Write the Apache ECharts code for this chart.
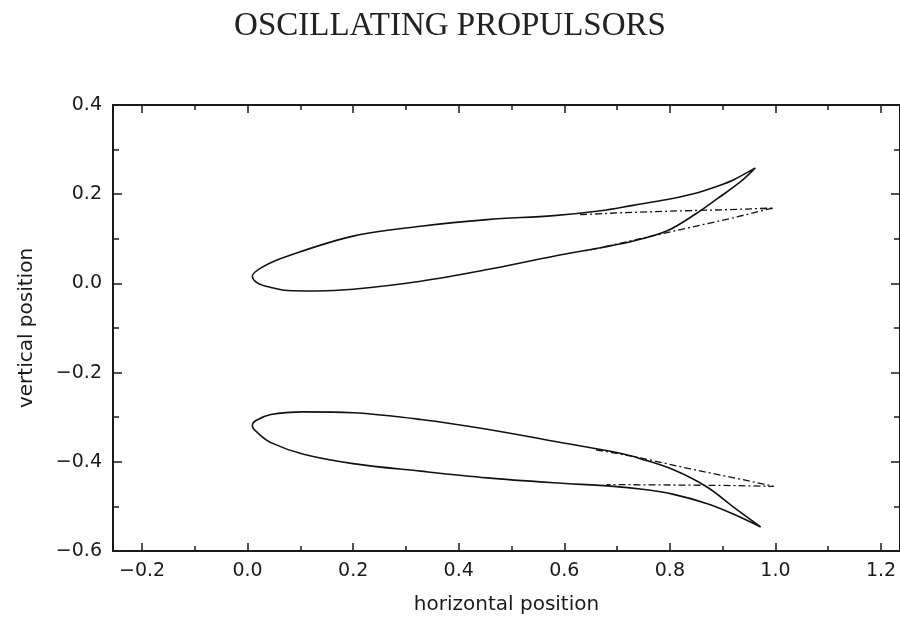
<!DOCTYPE html>
<html>
<head>
<meta charset="utf-8">
<script src="https://cdn.jsdelivr.net/npm/echarts@6/dist/echarts.min.js"></script>
<style>
html,body{margin:0;padding:0;background:#fff;overflow:hidden;}
#chart{width:900px;height:625px;}
</style>
</head>
<body>
<div id="chart"></div>
<script>
// Chart text
const chartTitle = 'OSCILLATING PROPULSORS';
const xAxisName = 'horizontal position';
const yAxisName = 'vertical position';

// Axis ranges (right edge of the plot is cut by the page border)
const xRange = [-0.255, 1.236];
const yRange = [-0.6, 0.4];
const yTickStep = 0.2;

// Upper foil: solid outline (tip -> upper surface -> leading edge -> lower surface -> tip)
const upperFoilSolid = [
  [0.962, 0.259], [0.92, 0.232], [0.89, 0.218], [0.845, 0.201], [0.795, 0.188],
  [0.73, 0.175], [0.669, 0.163], [0.58, 0.152], [0.454, 0.143], [0.328, 0.128],
  [0.2, 0.106], [0.075, 0.061], [0.03, 0.038], [0.009, 0.016], [0.02, 0.0],
  [0.044, -0.009], [0.075, -0.016], [0.13, -0.017], [0.2, -0.013], [0.328, 0.005],
  [0.454, 0.031], [0.58, 0.061], [0.669, 0.08], [0.731, 0.095], [0.795, 0.118],
  [0.848, 0.155], [0.89, 0.19], [0.934, 0.228], [0.962, 0.259]
];
// Upper foil: dash-dot alternative trailing edge
const upperFoilDash = [
  [0.63, 0.154], [0.7, 0.158], [0.8, 0.162], [0.9, 0.165], [0.997, 0.169],
  [0.984, 0.166], [0.92, 0.147], [0.795, 0.114], [0.669, 0.08], [0.64, 0.073]
];

// Lower foil: solid outline
const lowerFoilSolid = [
  [0.972, -0.546], [0.92, -0.501], [0.871, -0.457], [0.807, -0.418], [0.744, -0.393],
  [0.706, -0.381], [0.58, -0.354], [0.454, -0.327], [0.328, -0.305], [0.2, -0.29],
  [0.106, -0.288], [0.044, -0.294], [0.015, -0.308], [0.009, -0.32], [0.02, -0.336],
  [0.044, -0.357], [0.106, -0.383], [0.2, -0.404], [0.328, -0.421], [0.454, -0.436],
  [0.58, -0.447], [0.693, -0.455], [0.744, -0.461], [0.807, -0.473], [0.871, -0.494],
  [0.92, -0.517], [0.972, -0.546]
];
// Lower foil: dash-dot alternative trailing edge
const lowerFoilDash = [
  [0.66, -0.373], [0.744, -0.391], [0.839, -0.416], [0.934, -0.439], [0.997, -0.455],
  [0.9, -0.453], [0.8, -0.452], [0.68, -0.451]
];

function fmt(v) {
  const s = Math.abs(v).toFixed(1);
  return v < -1e-9 ? '\u2212' + s : s;
}
function xLabel(v) {
  const r = Math.round(v * 10);
  if (Math.abs(v * 10 - r) > 1e-6 || r % 2 !== 0) return '';
  return fmt(v);
}

const axisCol = '#1a1a1a';
const sansFont = 'DejaVu Sans, Liberation Sans, Arial, sans-serif';
const labelFont = { color: '#1a1a1a', fontSize: 19, fontFamily: sansFont };

function xAx(pos, show) {
  return {
    type: 'value', position: pos, min: xRange[0], max: xRange[1], splitNumber: 8,
    name: show ? xAxisName : '', nameLocation: 'middle', nameGap: 44,
    nameTextStyle: { color: '#1a1a1a', fontSize: 20, fontFamily: sansFont },
    axisLine: { show: true, onZero: false, lineStyle: { color: axisCol, width: 2 } },
    axisTick: { show: true, inside: true, length: 8, lineStyle: { color: axisCol, width: 1.5 } },
    minorTick: { show: true, splitNumber: 2, length: 5, lineStyle: { color: axisCol, width: 1.5 } },
    axisLabel: { show: show, margin: 11, formatter: xLabel, showMinLabel: false, showMaxLabel: false, ...labelFont },
    splitLine: { show: false }
  };
}
function yAx(pos, show) {
  return {
    type: 'value', position: pos, min: yRange[0], max: yRange[1], interval: yTickStep,
    name: show ? yAxisName : '', nameLocation: 'middle', nameGap: 76, nameRotate: 90,
    nameTextStyle: { color: '#1a1a1a', fontSize: 20, fontFamily: sansFont },
    axisLine: { show: true, onZero: false, lineStyle: { color: axisCol, width: 2 } },
    axisTick: { show: true, inside: true, length: 9, lineStyle: { color: axisCol, width: 1.5 } },
    minorTick: { show: true, splitNumber: 2, length: 6, lineStyle: { color: axisCol, width: 1.5 } },
    axisLabel: { show: show, margin: 11, formatter: fmt, ...labelFont },
    splitLine: { show: false }
  };
}

function solid(data) {
  return { type: 'line', data: data, smooth: 0.35, symbol: 'none', xAxisIndex: 0, yAxisIndex: 0,
    lineStyle: { color: '#111', width: 1.6 }, silent: true, animation: false };
}
function dashed(data) {
  return { type: 'line', data: data, smooth: false, symbol: 'none', xAxisIndex: 0, yAxisIndex: 0,
    lineStyle: { color: '#111', width: 1.3, type: [7, 3, 2, 3] }, silent: true, animation: false };
}

const chart = echarts.init(document.getElementById('chart'), null, { renderer: 'canvas' });
chart.setOption({
  backgroundColor: '#fff',
  animation: false,
  title: {
    text: chartTitle, left: 'center', top: 5,
    textStyle: { color: '#222', fontSize: 33, fontWeight: 'normal', fontFamily: 'Liberation Serif, Times New Roman, serif' }
  },
  grid: { left: 113, right: 0, top: 105, bottom: 74, containLabel: false },
  xAxis: [xAx('bottom', true), xAx('top', false)],
  yAxis: [yAx('left', true), yAx('right', false)],
  series: [solid(upperFoilSolid), dashed(upperFoilDash), solid(lowerFoilSolid), dashed(lowerFoilDash)]
});
</script>
</body>
</html>
